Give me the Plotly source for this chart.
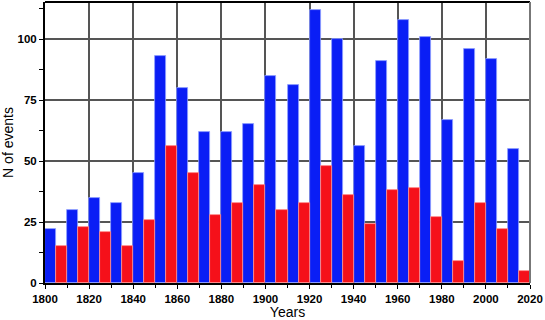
import plotly.graph_objects as go

decades = [1800, 1810, 1820, 1830, 1840, 1850, 1860, 1870, 1880, 1890, 1900,
           1910, 1920, 1930, 1940, 1950, 1960, 1970, 1980, 1990, 2000, 2010]
blue_values = [22, 30, 35, 33, 45, 93, 80, 62, 62, 65, 85,
               81, 112, 100, 56, 91, 108, 101, 67, 96, 92, 55]
red_values = [15, 23, 21, 15, 26, 56, 45, 28, 33, 40, 30,
              33, 48, 36, 24, 38, 39, 27, 9, 33, 22, 5]

fig = go.Figure()
fig.add_trace(go.Bar(x=decades, y=blue_values, width=5, offset=0,
                     marker=dict(color="#0a1ef5", line=dict(color="#8fa0ff", width=0.8)),
                     showlegend=False))
fig.add_trace(go.Bar(x=decades, y=red_values, width=5, offset=5,
                     marker=dict(color="#f5101a", line=dict(color="#ff9090", width=0.8)),
                     showlegend=False))

tickfont = dict(family="Liberation Sans, Arial", size=11.5, color="black", weight="bold")

fig.update_layout(
    width=545, height=320,
    margin=dict(l=45, r=15, t=2, b=37),
    paper_bgcolor="white", plot_bgcolor="white",
    barmode="overlay", bargap=0,
    xaxis=dict(range=[1800, 2020], tickmode="linear", tick0=1800, dtick=20,
               automargin=False,
               ticks="outside", ticklen=4, tickcolor="black", tickwidth=1,
               showgrid=True, gridcolor="#555555", gridwidth=1.5,
               showline=True, linecolor="black", linewidth=2, mirror=False,
               zeroline=False,
               minor=dict(dtick=10, ticks="outside", ticklen=3, tickcolor="black", showgrid=False),
               tickfont=tickfont,
               title=dict(text="Years", standoff=2,
                          font=dict(family="Liberation Sans, Arial", size=14, color="black"))),
    yaxis=dict(range=[0, 115.2], tickmode="array", tickvals=[0, 25, 50, 75, 100],
               automargin=False,
               ticks="outside", ticklen=4, tickcolor="black", tickwidth=1,
               showgrid=True, gridcolor="#555555", gridwidth=1.5,
               showline=True, linecolor="black", linewidth=2,
               zeroline=False,
               minor=dict(tickvals=[12.5, 37.5, 62.5, 87.5, 112.5], ticks="outside",
                          ticklen=4, tickcolor="black", showgrid=False),
               tickfont=tickfont,
               title=dict(text="N of events", standoff=6,
                          font=dict(family="Liberation Sans, Arial", size=14, color="black"))),
    shapes=[
        dict(type="line", xref="paper", yref="paper", x0=0, x1=1, y0=1, y1=1,
             line=dict(color="black", width=2)),
        dict(type="line", xref="paper", yref="paper", x0=1, x1=1, y0=0, y1=1,
             line=dict(color="#777777", width=2)),
    ],
)

fig.write_html("out.html", config={"displayModeBar": False},
               post_script="document.body.style.margin='0';document.body.style.overflow='hidden';")
